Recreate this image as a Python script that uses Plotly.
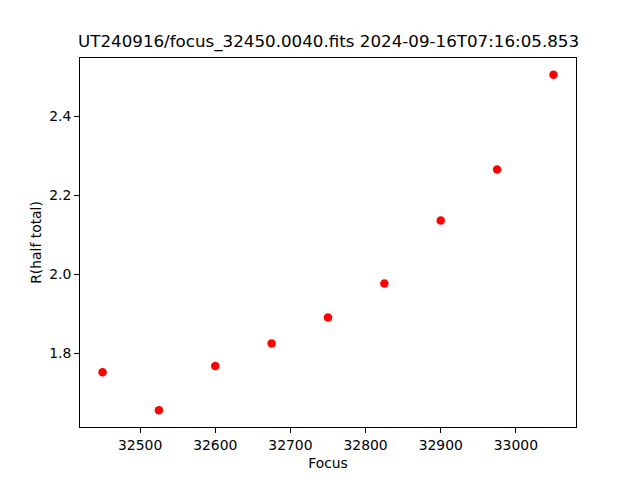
import plotly.graph_objects as go

focus = [32450, 32525, 32600, 32675, 32750, 32825, 32900, 32975, 33050]
r_half = [1.752, 1.656, 1.768, 1.825, 1.891, 1.977, 2.137, 2.266, 2.506]
x_ticks = [32500, 32600, 32700, 32800, 32900, 33000]
y_ticks = [1.8, 2.0, 2.2, 2.4]
title = "UT240916/focus_32450.0040.fits 2024-09-16T07:16:05.853"

fig = go.Figure()
fig.add_trace(go.Scatter(x=focus, y=r_half, mode="markers",
                         marker=dict(color="red", size=8.5), showlegend=False))

font = dict(family="DejaVu Sans", size=13.9, color="black")
axis_common = dict(showgrid=False, zeroline=False, showline=True, mirror=True,
                   linecolor="black", linewidth=1, ticks="outside", ticklen=5,
                   tickwidth=1, tickcolor="black", tickfont=font)
fig.update_xaxes(range=[32420, 33080], tickvals=x_ticks,
                 ticktext=[str(v) for v in x_ticks],
                 title=dict(text="Focus", font=font, standoff=6), **axis_common)
fig.update_yaxes(range=[1.6135, 2.5485], tickvals=y_ticks,
                 ticktext=[f"{v:.1f}" for v in y_ticks],
                 title=dict(text="R(half total)", font=font, standoff=4), **axis_common)
fig.update_layout(width=640, height=480, plot_bgcolor="white", paper_bgcolor="white",
                  margin=dict(l=80, r=64, t=58, b=53, pad=0),
                  font=font)
fig.add_annotation(text=title, xref="paper", yref="paper", x=0.5, y=1,
                   xanchor="center", yanchor="bottom", yshift=4, showarrow=False,
                   font=dict(family="DejaVu Sans", size=16.7, color="black"))
fig.write_html("out.html", config={"displayModeBar": False},
               post_script="document.body.style.margin='0';document.body.style.padding='0';")
